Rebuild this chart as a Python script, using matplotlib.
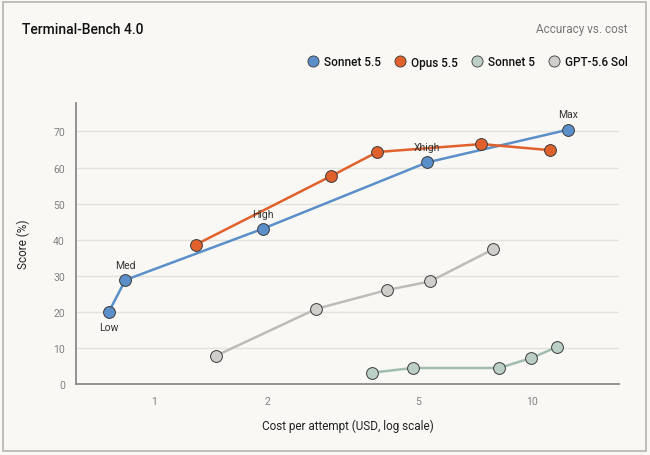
import numpy as np
import matplotlib
matplotlib.use("Agg")
import matplotlib.pyplot as plt
from matplotlib.lines import Line2D
from matplotlib.patches import Rectangle

plt.rcParams["font.family"] = ["Roboto", "DejaVu Sans"]

# ------------------------------------------------------------
# Data (cost in USD, score in %)
# ------------------------------------------------------------
sonnet55_cost = [0.76, 0.84, 1.94, 5.28, 12.5]
sonnet55_score = [20.0, 28.8, 43.0, 61.4, 70.5]
sonnet55_labels = ["Low", "Med", "High", "Xhigh", "Max"]

opus55_cost = [1.29, 2.94, 3.90, 7.36, 11.2]
opus55_score = [38.6, 57.6, 64.3, 66.5, 64.8]

sonnet5_cost = [3.77, 4.84, 8.19, 9.94, 11.65]
sonnet5_score = [3.1, 4.4, 4.4, 7.1, 10.2]

gpt56_cost = [1.46, 2.69, 4.13, 5.38, 7.89]
gpt56_score = [7.8, 20.8, 26.0, 28.4, 37.3]

x_ticks = [1, 2, 5, 10]
y_ticks = [0, 10, 20, 30, 40, 50, 60, 70]

BG = "#f9f8f4"
BLUE = "#5b8fc9"
ORANGE = "#e0612b"
SAGE_FILL = "#bccfc5"
SAGE_LINE = "#a2bdb0"
GRAY_FILL = "#cfceca"
GRAY_LINE = "#bdbcb8"
EDGE = "#3a3a3a"

fig = plt.figure(figsize=(6.5, 4.56), dpi=100, facecolor=BG)
ax = fig.add_axes([0.117, 0.156, 0.835, 0.616], facecolor=BG)

series = [
    (gpt56_cost, gpt56_score, GRAY_LINE, GRAY_FILL),
    (sonnet5_cost, sonnet5_score, SAGE_LINE, SAGE_FILL),
    (sonnet55_cost, sonnet55_score, BLUE, BLUE),
    (opus55_cost, opus55_score, ORANGE, ORANGE),
]
for xs, ys, lc, fc in series:
    ax.plot(xs, ys, color=lc, lw=1.8, zorder=3)
    ax.plot(xs, ys, ls="none", marker="o", ms=8.5, mfc=fc, mec=EDGE,
            mew=0.7, zorder=4)

# effort labels on the Sonnet 5.5 line
for xv, yv, lab in zip(sonnet55_cost, sonnet55_score, sonnet55_labels):
    dy = -11 if lab == "Low" else 11
    ax.annotate(lab, (xv, yv), xytext=(0, dy), textcoords="offset points",
                ha="center", va="center", fontsize=7.5, color="#333333",
                zorder=5)

ax.set_xscale("log")
ax.set_xlim(0.622, 17.0)
ax.set_ylim(0, 77.9)
ax.set_xticks(x_ticks)
ax.set_xticklabels([str(t) for t in x_ticks])
ax.xaxis.set_minor_locator(matplotlib.ticker.NullLocator())
ax.set_yticks(y_ticks)
ax.tick_params(axis="both", length=0, labelsize=7.5, labelcolor="#808080")
ax.tick_params(axis="x", pad=9)
ax.tick_params(axis="y", pad=8)
ax.grid(axis="y", color="#e4e2dc", lw=1.0)
ax.set_axisbelow(True)
for s in ["top", "right"]:
    ax.spines[s].set_visible(False)
for s in ["left", "bottom"]:
    ax.spines[s].set_color("#8a8a88")
    ax.spines[s].set_linewidth(1.3)

ax.set_xlabel("Cost per attempt (USD, log scale)", fontsize=8.5, color="#222222",
              labelpad=9)
ax.set_ylabel("Score (%)", fontsize=8.5, color="#222222", labelpad=17)

# header
fig.text(22 / 650, 1 - 30 / 456, "Terminal-Bench 4.0", fontsize=10,
         fontweight="medium", color="#111111", va="center", ha="left")
fig.text(628 / 650, 1 - 30 / 456, "Accuracy vs. cost", fontsize=8.5,
         color="#777777", va="center", ha="right")

handles = [
    Line2D([], [], ls="none", marker="o", ms=8, mfc=BLUE, mec=EDGE, mew=0.6),
    Line2D([], [], ls="none", marker="o", ms=8, mfc=ORANGE, mec=EDGE, mew=0.6),
    Line2D([], [], ls="none", marker="o", ms=8, mfc=SAGE_FILL, mec=EDGE, mew=0.6),
    Line2D([], [], ls="none", marker="o", ms=8, mfc=GRAY_FILL, mec=EDGE, mew=0.6),
]
names = ["Sonnet 5.5", "Opus 5.5", "Sonnet 5", "GPT-5.6 Sol"]
leg = fig.legend(handles, names, loc="center right",
                 bbox_to_anchor=(0.982, 1 - 63 / 456),
                 ncol=4, frameon=False, fontsize=8.5, handlelength=0.8,
                 handletextpad=0.5, columnspacing=1.25, labelcolor="#111111")
for t in leg.get_texts():
    t.set_fontweight("medium")

# outer card border
fig.patches.append(Rectangle((3 / 650, 4 / 456), 643 / 650, 449 / 456,
                             transform=fig.transFigure, fill=False,
                             edgecolor="#b4b4b0", lw=1.2))

fig.savefig("out.png", dpi=100, facecolor=BG)
